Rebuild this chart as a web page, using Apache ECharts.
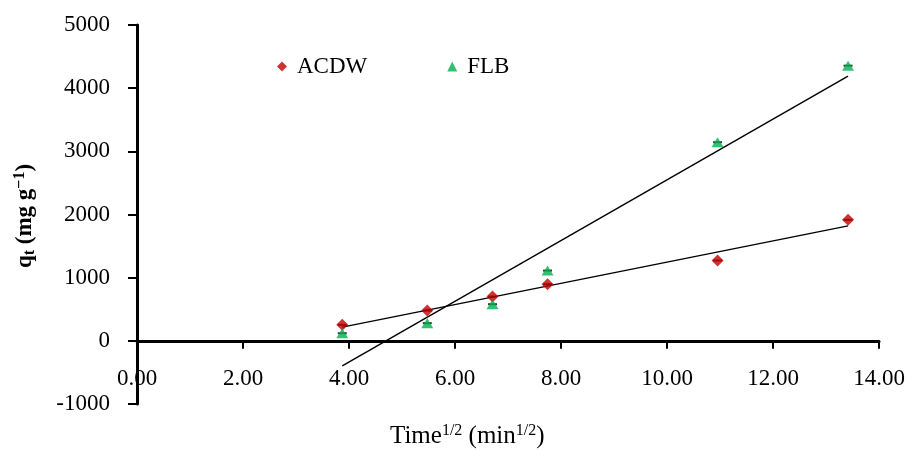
<!DOCTYPE html>
<html>
<head>
<meta charset="utf-8">
<script src="https://cdn.jsdelivr.net/npm/echarts@6/dist/echarts.min.js"></script>
<style>html,body{margin:0;padding:0;background:#fff;}#c{width:908px;height:450px;}</style>
</head>
<body>
<div id="c"></div>
<script>
// Data (x = time^1/2 in min^1/2, y = q_t in mg/g)
const timeSqrt = [3.873, 5.477, 6.708, 7.746, 10.954, 13.416];
const acdwValues = [253, 479, 701, 897, 1271, 1915];
const flbValues = [120, 280, 580, 1112, 3144, 4356];
// Trendline endpoints
const acdwTrendX = [3.873, 13.416];
const acdwTrendY = [218, 1820];
const flbTrendX = [3.873, 13.416];
const flbTrendY = [-395, 4190];
const xTicks = [0, 2, 4, 6, 8, 10, 12, 14];
const yTicks = [-1000, 0, 1000, 2000, 3000, 4000, 5000];
const seriesNames = ['ACDW', 'FLB'];

const FONT = '"Liberation Serif", "DejaVu Serif", serif';
const pair = (xs, ys) => xs.map((x, i) => [x, ys[i]]);

const chart = echarts.init(document.getElementById('c'), null, {renderer: 'canvas'});
chart.setOption({
  animation: false,
  backgroundColor: '#ffffff',
  textStyle: {fontFamily: FONT},
  grid: {left: 137, right: 29, top: 25, bottom: 46, containLabel: false},
  legend: {
    data: [
      {name: seriesNames[0], icon: 'diamond'},
      {name: seriesNames[1], icon: 'triangle'}
    ],
    left: 272, top: 50,
    itemWidth: 10, itemHeight: 10, itemGap: 80,
    textStyle: {fontFamily: FONT, fontSize: 23, color: '#000', padding: [0, 0, 0, 5]}
  },
  xAxis: {
    type: 'value', min: xTicks[0], max: xTicks[xTicks.length - 1], interval: 2,
    axisLine: {onZero: true, lineStyle: {color: '#000', width: 3}},
    axisTick: {show: true, length: 8, lineStyle: {color: '#000', width: 2}},
    axisLabel: {margin: -37, fontFamily: FONT, fontSize: 23, color: '#000', formatter: v => v.toFixed(2)},
    splitLine: {show: false}
  },
  yAxis: {
    type: 'value', min: yTicks[0], max: yTicks[yTicks.length - 1], interval: 1000,
    axisLine: {show: true, lineStyle: {color: '#000', width: 3}},
    axisTick: {show: true, length: 9, lineStyle: {color: '#000', width: 2}},
    axisLabel: {margin: 27, fontFamily: FONT, fontSize: 23, color: '#000', formatter: v => String(v)},
    splitLine: {show: false}
  },
  graphic: [
    {
      type: 'text', left: 390, top: 423,
      style: {
        text: '{a|Time}{s|1/2}{a| (min}{s|1/2}{a|)}',
        rich: {
          a: {fontFamily: FONT, fontSize: 25, fill: '#000', verticalAlign: 'bottom', lineHeight: 26},
          s: {fontFamily: FONT, fontSize: 16, fill: '#000', verticalAlign: 'top', lineHeight: 26, padding: [0, 0, 9, 0]}
        }
      }
    },
    {
      type: 'text', x: 25, y: 216, rotation: Math.PI / 2,
      style: {
        text: '{a|q}{b|t}{a| (mg g}{s|\u22121}{a|)}',
        align: 'center', verticalAlign: 'middle',
        rich: {
          a: {fontFamily: FONT, fontSize: 23, fontWeight: 'bold', fill: '#000', lineHeight: 26},
          b: {fontFamily: FONT, fontSize: 16, fontWeight: 'bold', fill: '#000', lineHeight: 26, padding: [10, 0, 0, 0]},
          s: {fontFamily: FONT, fontSize: 16, fontWeight: 'bold', fill: '#000', lineHeight: 26, padding: [0, 0, 10, 0]}
        }
      }
    }
  ],
  series: [
    {
      name: 'capsA', type: 'scatter', symbol: 'rect', symbolSize: [9, 2], z: 2, silent: true,
      itemStyle: {color: '#000'}, data: pair(timeSqrt, acdwValues)
    },
    {
      name: 'capsF', type: 'scatter', symbol: 'rect', symbolSize: [9, 2], z: 2, silent: true,
      itemStyle: {color: '#000'}, data: pair(timeSqrt, flbValues)
    },
    {
      name: 'trendA', type: 'line', showSymbol: false, symbol: 'none', z: 3, silent: true,
      lineStyle: {color: '#000', width: 1.4}, data: pair(acdwTrendX, acdwTrendY)
    },
    {
      name: 'trendF', type: 'line', showSymbol: false, symbol: 'none', z: 3, silent: true,
      lineStyle: {color: '#000', width: 1.4}, data: pair(flbTrendX, flbTrendY)
    },
    {
      name: seriesNames[0], type: 'scatter', symbol: 'diamond', symbolSize: 12, z: 4,
      itemStyle: {color: '#C00000'}, data: pair(timeSqrt, acdwValues)
    },
    {
      name: seriesNames[1], type: 'scatter', symbol: 'triangle', symbolSize: [12, 10], z: 4,
      itemStyle: {color: '#00B050'}, data: pair(timeSqrt, flbValues)
    }
  ]
});
</script>
</body>
</html>
